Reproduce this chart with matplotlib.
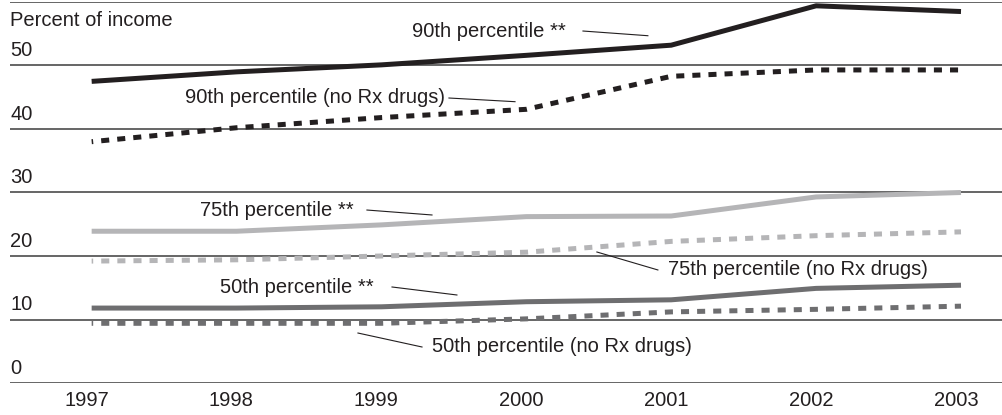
import matplotlib
matplotlib.use("Agg")
import matplotlib.pyplot as plt
import matplotlib.transforms as mtransforms

# Data (percent of income)
years = [1997, 1998, 1999, 2000, 2001, 2002, 2003]
p90 = [47.5, 49.0, 50.1, 51.6, 53.2, 59.4, 58.5]
p90_norx = [38.0, 40.2, 41.8, 43.1, 48.3, 49.3, 49.3]
p75 = [23.9, 23.9, 24.9, 26.2, 26.3, 29.3, 30.0]
p75_norx = [19.2, 19.4, 20.0, 20.6, 22.3, 23.2, 23.8]
p50 = [11.8, 11.8, 12.0, 12.8, 13.1, 14.9, 15.4]
p50_norx = [9.4, 9.4, 9.4, 10.1, 11.2, 11.6, 12.1]
yticks = [0, 10, 20, 30, 40, 50, 60]

BLACK = "#231f20"
LIGHT = "#b5b5b7"
DARK = "#6e6e70"
GRID = "#3c3c3c"

plt.rcParams['font.family'] = ['Liberation Sans', 'DejaVu Sans']
plt.rcParams['lines.scale_dashes'] = False

fig = plt.figure(figsize=(10.02, 4.15), dpi=100)
ax = fig.add_axes([9.5 / 1002, 32 / 415, 1 - 9.5 / 1002, 381 / 415])
ax.set_xlim(1996.433, 2003.283)
ax.set_ylim(0, 60)
ax.axis('off')

for t in yticks:
    ax.axhline(t, color=GRID, lw=1.1, zorder=1)

lw = 3.6
dash = (4.7, (5.8, 5.8))
ax.plot(years, p90, color=BLACK, lw=lw, solid_capstyle='butt', zorder=3)
ax.plot(years, p90_norx, color=BLACK, lw=lw, ls=dash, dash_capstyle='butt', zorder=3)
ax.plot(years, p75, color=LIGHT, lw=lw, solid_capstyle='butt', zorder=3)
ax.plot(years, p75_norx, color=LIGHT, lw=lw, ls=dash, dash_capstyle='butt', zorder=3)
ax.plot(years, p50, color=DARK, lw=lw, solid_capstyle='butt', zorder=3)
ax.plot(years, p50_norx, color=DARK, lw=lw, ls=dash, dash_capstyle='butt', zorder=3)

fs = 14.5
tc = BLACK
# y tick labels sit above their gridline at the left edge
trans = mtransforms.blended_transform_factory(ax.transAxes, ax.transData)
for t in yticks[:-1]:
    ax.annotate(str(t), xy=(0, t), xycoords=trans, xytext=(0.5, 10.5),
                textcoords='offset points', ha='left', va='center',
                fontsize=fs, color=tc)
ax.annotate("Percent of income", xy=(0, 60), xycoords=trans, xytext=(0.5, -13),
            textcoords='offset points', ha='left', va='center',
            fontsize=fs, color=tc)

# x tick labels under the bottom line
for yr in years:
    ax.annotate(str(yr), xy=(yr, 0), xytext=(-3.7, -12.5), textcoords='offset points',
                ha='center', va='center', fontsize=fs, color=tc)

# series labels with leader lines (text position, alignment, line start, line end) in data units
labels = [
    ("90th percentile **", (1999.211, 55.3), 'left', (2000.391, 55.43), (2000.839, 54.69)),
    ("90th percentile (no Rx drugs)", (1999.439, 44.9), 'right', (1999.466, 44.88), (1999.922, 44.30)),
    ("75th percentile **", (1997.748, 27.2), 'left', (1998.900, 27.24), (1999.349, 26.46)),
    ("75th percentile (no Rx drugs)", (2000.978, 17.8), 'left', (2000.487, 20.63), (2000.908, 17.80)),
    ("50th percentile **", (1997.886, 15.1), 'left', (1999.073, 15.12), (1999.521, 13.86)),
    ("50th percentile (no Rx drugs)", (1999.349, 5.7), 'left', (1998.838, 7.87), (1999.280, 5.67)),
]
for txt, pos, ha, p0, p1 in labels:
    ax.text(pos[0], pos[1], txt, ha=ha, va='center', fontsize=fs, color=tc, zorder=5)
    ax.plot([p0[0], p1[0]], [p0[1], p1[1]], color=BLACK, lw=0.8, zorder=4)

fig.savefig("out.png", dpi=100)
